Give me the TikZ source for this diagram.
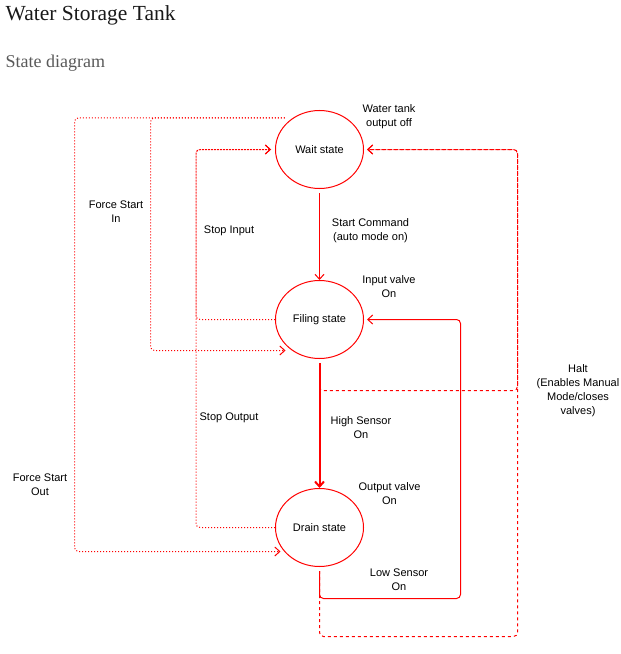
\documentclass[tikz,border=0pt]{standalone}
\usepackage{fontspec}
\setmainfont{Liberation Serif}
\newfontfamily\diagfont{Liberation Sans}
\usetikzlibrary{shapes.geometric,arrows.meta}
\definecolor{lred}{HTML}{FF0000}
\begin{document}
\begin{tikzpicture}[x=1bp,y=-1bp,
  state/.style={ellipse,draw=lred,line width=1bp,minimum width=88bp,minimum height=78bp,inner sep=0pt,font=\diagfont\fontsize{11bp}{13bp}\selectfont},
  lbl/.style={align=center,font=\diagfont\fontsize{11bp}{14bp}\selectfont,inner sep=0pt},
  tip/.style={-{Straight Barb[length=5bp,width=9bp]}},
  solidedge/.style={draw=lred,line width=1bp,tip,rounded corners=4bp},
  dotedge/.style={draw=lred,line width=1bp,dash pattern=on 1bp off 2bp,tip,rounded corners=4bp},
  dashedge/.style={draw=lred,line width=1bp,dash pattern=on 3bp off 3bp,tip,rounded corners=4bp}]
\useasboundingbox (0,0) rectangle (621,654);

\node[anchor=base west,font=\fontsize{21.5bp}{24bp}\selectfont,text=black!90,inner sep=0pt] (title) at (5.5,21) {Water Storage Tank};
\node[anchor=base west,font=\fontsize{18bp}{22bp}\selectfont,text=black!65,inner sep=0pt] (sub) at (5.5,68) {State diagram};

\node[state] (wait) at (319.5,149.5) {Wait state};
\node[state] (fill) at (319.5,319.5) {Filing state};
\node[state] (drain) at (319.5,527.5) {Drain state};

\coordinate (hb) at (517.5,636.5);
\coordinate (hm) at (517.5,390.5);
\coordinate (ls) at (460.5,598.5);
\coordinate (fsi) at (150.5,350.5);
\coordinate (fso) at (74.5,551.5);

% Halt edges (dashed)
\draw[dashedge,shorten <=4bp,shorten >=3bp] (drain.south) |- (hb) |- (wait.east);
\draw[dashedge,shorten <=4bp,shorten >=3bp] (fill.south) |- (hm) |- (wait.east);

% Low sensor
\draw[solidedge,shorten <=4bp,shorten >=3bp] (drain.south) |- (ls) |- (fill.east);

% Stop input / output
\draw[dotedge,shorten >=4bp] (fill.west) -- ++(-79,0) |- (wait.west);
\draw[dotedge,shorten >=4bp] (drain.west) -- ++(-79,0) |- (wait.west);

% Force start
\draw[dotedge,shorten >=34bp] ([xshift=-8bp]wait.130) -| (fsi) -- (fsi -| fill.center);
\draw[dotedge,shorten >=39bp] ([xshift=-8bp]wait.130) -| (fso) -- (fso -| drain.center);

% Main flow
\draw[solidedge,shorten <=4bp] (wait.south) -- (fill.north);
\draw[solidedge,line width=2bp,shorten <=4bp] (fill.south) -- (drain.north);

% Labels
\node[lbl] (l1) at (389,116.5) {Water tank\\output off};
\node[lbl] (l2) at (370.5,231) {Start Command\\(auto mode on)};
\node[lbl] (l3) at (389,287) {Input valve\\On};
\node[lbl] (l4) at (361,428) {High Sensor\\On};
\node[lbl] (l5) at (389.5,494) {Output valve\\On};
\node[lbl] (l6) at (399,579.5) {Low Sensor\\On};
\node[lbl] (l7) at (578,390.5) {Halt\\(Enables Manual\\Mode/closes\\valves)};
\node[lbl] (l8) at (229,230.5) {Stop Input};
\node[lbl] (l9) at (229,418) {Stop Output};
\node[lbl] (l10) at (116,212) {Force Start\\In};
\node[lbl] (l11) at (40,485) {Force Start\\Out};
\end{tikzpicture}
\end{document}
